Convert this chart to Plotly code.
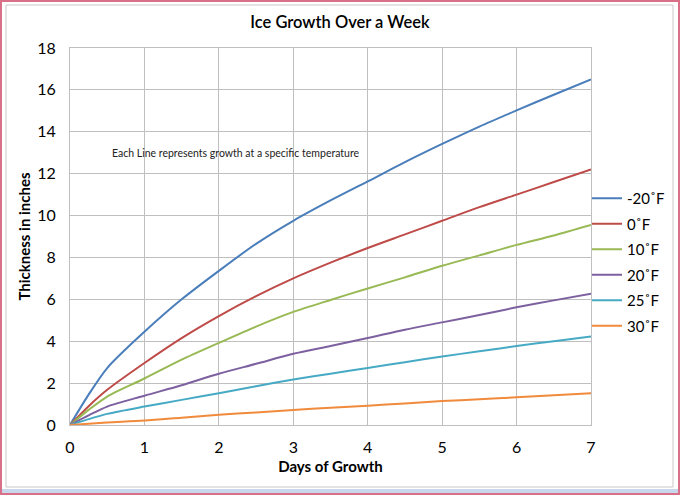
import plotly.graph_objects as go

# days of growth and ice thickness (inches)
days = [0, 0.25, 0.5, 1, 1.5, 2, 2.5, 3, 3.5, 4, 4.5, 5, 5.5, 6, 6.5, 7]

temps = ["-20˚F", "0˚F", "10˚F", "20˚F", "25˚F", "30˚F"]

t_m20 = [0, 1.45, 2.72, 4.45, 6.0, 7.36, 8.65, 9.75, 10.72, 11.63, 12.55, 13.42, 14.25, 15.02, 15.77, 16.5]
t_0 = [0, 0.9, 1.68, 2.96, 4.15, 5.2, 6.15, 7.0, 7.75, 8.45, 9.1, 9.75, 10.4, 11.0, 11.6, 12.2]
t_10 = [0, 0.72, 1.36, 2.22, 3.12, 3.92, 4.7, 5.4, 5.97, 6.52, 7.05, 7.6, 8.1, 8.6, 9.05, 9.55]
t_20 = [0, 0.46, 0.88, 1.4, 1.9, 2.45, 2.92, 3.4, 3.77, 4.15, 4.55, 4.9, 5.25, 5.62, 5.95, 6.27]
t_25 = [0, 0.28, 0.53, 0.88, 1.2, 1.52, 1.85, 2.17, 2.45, 2.72, 3.0, 3.27, 3.52, 3.77, 4.0, 4.23]
t_30 = [0, 0.06, 0.12, 0.21, 0.35, 0.49, 0.6, 0.72, 0.82, 0.92, 1.03, 1.14, 1.23, 1.32, 1.42, 1.52]

series = [t_m20, t_0, t_10, t_20, t_25, t_30]
colors = ["#4A7EBB", "#BE4B48", "#98B954", "#7D60A0", "#46AAC5", "#F08A3C"]

fig = go.Figure()
for name, vals, col in zip(temps, series, colors):
    fig.add_trace(go.Scatter(x=days, y=vals, name=name, legendgroup=name, mode="lines",
                             line=dict(color=col, width=2, shape="spline", smoothing=0.8)))

grid = "#BFBFBF"
fig.update_layout(
    width=680, height=495,
    margin=dict(l=70, r=89, t=48, b=70, autoexpand=False),
    paper_bgcolor="white", plot_bgcolor="white",
    font=dict(family="Lato, Open Sans, sans-serif", color="black"),
    title=dict(text="Ice Growth Over a Week", x=0.5, xref="container", xanchor="center",
               y=0.955, yanchor="middle",
               font=dict(size=16.5, color="black", weight=600)),
    legend=dict(x=587 / 680, y=1 - 262 / 495, xref="container", yref="container",
                xanchor="left", yanchor="middle",
                font=dict(size=15), tracegroupgap=3, itemwidth=30,
                bgcolor="rgba(0,0,0,0)"),
    annotations=[dict(text="Each Line represents growth at a specific temperature",
                      x=0.54, y=13.0, xref="x", yref="y", xanchor="left", yanchor="middle",
                      showarrow=False, font=dict(size=10.5, color="#222"))],
)
fig.update_xaxes(range=[0, 7], dtick=1, tick0=0, showgrid=True, gridcolor=grid,
                 showline=True, linecolor=grid, mirror=True, zeroline=False,
                 automargin=False,
                 ticks="", tickfont=dict(size=16), ticklabelstandoff=8,
                 title=dict(text="<b>Days of Growth</b>", font=dict(size=15), standoff=6))
fig.update_yaxes(range=[0, 18], dtick=2, tick0=0, showgrid=True, gridcolor=grid,
                 showline=True, linecolor=grid, mirror=True, zeroline=False,
                 automargin=False,
                 ticks="", tickfont=dict(size=16), ticklabelstandoff=10,
                 title=dict(text="<b>Thickness in inches</b>", font=dict(size=15), standoff=2))

# chart frame like the spreadsheet object border
def px_x(p):
    return (p - 70) / 521.0

def px_y(p):
    return (425 - p) / 377.0

fig.add_shape(type="rect", xref="paper", yref="paper",
              x0=px_x(0), x1=px_x(680), y0=px_y(489), y1=px_y(495),
              fillcolor="#C9D7EA", line=dict(width=0), layer="below")
fig.add_shape(type="rect", xref="paper", yref="paper",
              x0=px_x(1), x1=px_x(679), y0=px_y(494), y1=px_y(1),
              line=dict(color="#D9708A", width=2), layer="below")
fig.add_shape(type="rect", xref="paper", yref="paper",
              x0=px_x(6), x1=px_x(673), y0=px_y(487), y1=px_y(5),
              line=dict(color="#C8C8C8", width=1), layer="below")

# drop the page's default body margin so the figure sits at the window corner
fig.write_html("out.html", config={"displayModeBar": False},
               post_script="document.body.style.margin='0';document.body.style.overflow='hidden';")
